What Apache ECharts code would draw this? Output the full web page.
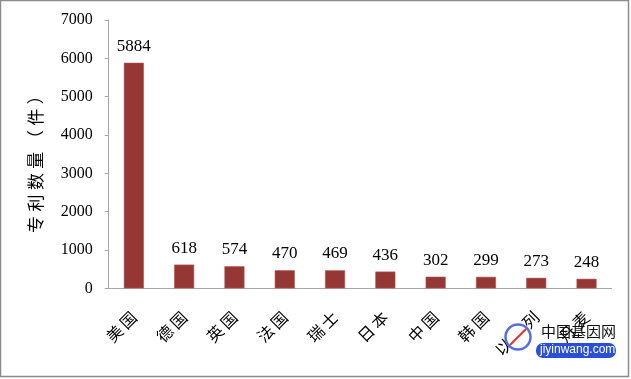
<!DOCTYPE html>
<html>
<head>
<meta charset="utf-8">
<script src="https://cdn.jsdelivr.net/npm/echarts@6/dist/echarts.min.js"></script>
<style>
html,body{margin:0;padding:0;background:#fff;}
#c{width:631px;height:379px;}
</style>
</head>
<body>
<div id="c"></div>
<script>
var categories = ['美国','德国','英国','法国','瑞士','日本','中国','韩国','以色列','丹麦'];
var values = [5884, 618, 574, 470, 469, 436, 302, 299, 273, 248];
var yTicks = [0, 1000, 2000, 3000, 4000, 5000, 6000, 7000];
var yAxisTitle = '专利数量（件）';

function spaced(s, sep) { return s.split('').join(sep); }

var chart = echarts.init(document.getElementById('c'), null, {renderer: 'canvas'});
chart.setOption({
  backgroundColor: '#fff',
  animation: false,
  grid: {left: 108.7, right: 19.3, top: 20, bottom: 90.7},
  xAxis: {
    type: 'category',
    data: categories,
    axisLine: {lineStyle: {color: '#a6a6a6', width: 1}},
    axisTick: {show: false},
    axisLabel: {
      rotate: 45, interval: 0, margin: 26,
      formatter: function (v) { return spaced(v, '\u2009'); },
      fontFamily: '"Noto Sans CJK SC"', fontSize: 16, color: '#000'
    }
  },
  yAxis: {
    type: 'value',
    min: yTicks[0], max: yTicks[yTicks.length - 1], interval: 1000,
    name: spaced(yAxisTitle, '\u2009\u200a'),
    nameLocation: 'middle', nameRotate: 90, nameGap: 65,
    nameTextStyle: {fontFamily: '"Noto Sans CJK SC"', fontSize: 17, color: '#000', padding: [0, 12, 0, 0]},
    splitLine: {show: false},
    axisLine: {show: true, lineStyle: {color: '#a6a6a6', width: 1}},
    axisTick: {show: true, length: 4, lineStyle: {color: '#a6a6a6'}},
    axisLabel: {
      margin: 16,
      formatter: function (v) { return String(v); },
      fontFamily: '"Liberation Serif"', fontSize: 16, color: '#000'
    }
  },
  series: [{
    type: 'bar',
    data: values,
    barWidth: 20,
    itemStyle: {color: '#953735', borderColor: '#b0504d', borderWidth: 0.6},
    label: {
      show: true, position: 'top', distance: 8,
      fontFamily: '"Liberation Serif"', fontSize: 17, color: '#000'
    }
  }],
  graphic: [
    {type: 'rect', shape: {x: 0.5, y: 0.5, width: 628, height: 376}, style: {fill: 'none', stroke: '#8c8c8c', lineWidth: 1.5}, z: 100},
    {type: 'circle', shape: {cx: 518, cy: 337, r: 12.5}, style: {fill: '#fff', stroke: '#5470e0', lineWidth: 2.5}, z: 100},
    {type: 'line', shape: {x1: 510, y1: 345, x2: 526, y2: 329}, style: {stroke: '#e03030', lineWidth: 2}, z: 101},
    {type: 'text', left: 541, top: 324, style: {text: '中国基因网', font: '15px "Noto Sans CJK SC"', fill: '#111'}, z: 100},
    {type: 'rect', shape: {x: 536, y: 343, width: 80, height: 15, r: 7}, style: {fill: '#2a4fd6'}, z: 100},
    {type: 'text', left: 540, top: 344, style: {text: 'jiyinwang.com', font: '12px "Liberation Sans"', fill: '#fff'}, z: 101}
  ]
});
</script>
</body>
</html>
